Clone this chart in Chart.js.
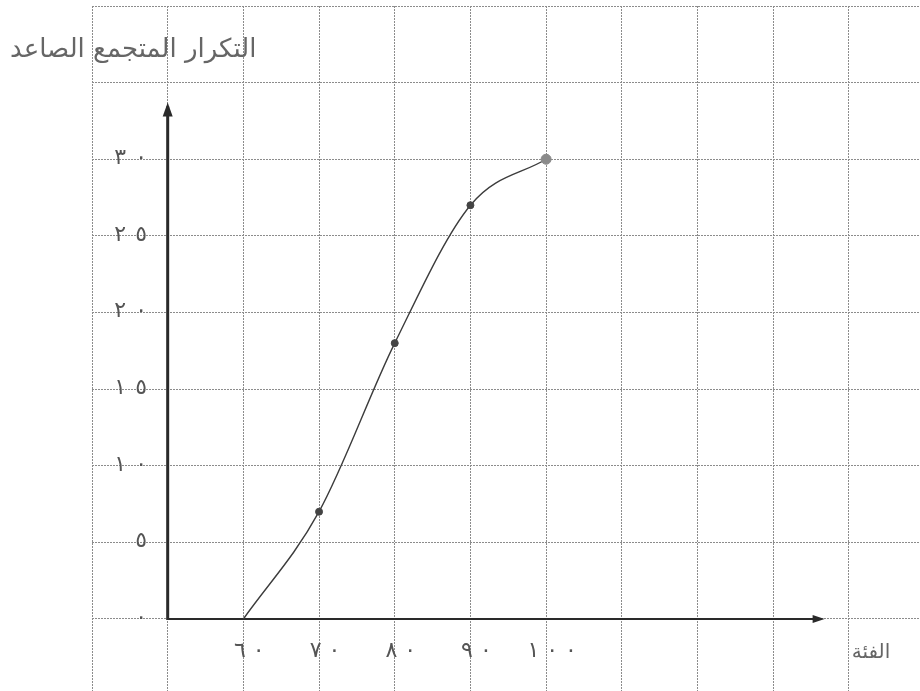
<!DOCTYPE html>
<html lang="ar">
<head>
<meta charset="utf-8">
<script src="https://cdn.jsdelivr.net/npm/chart.js@4.4.1/dist/chart.umd.min.js"></script>
<style>
  html, body { margin: 0; padding: 0; background: #fff; }
  #wrap { width: 920px; height: 691px; }
</style>
</head>
<body>
<div id="wrap"><canvas id="ogive"></canvas></div>
<script>
// upper class boundaries and cumulative frequency (ascending ogive)
const classes = [60, 70, 80, 90, 100];
const cumulative = [0, 7, 18, 27, 30];

const xTickLabels = ['٦٠', '٧٠', '٨٠', '٩٠', '١٠٠'];
const yTickValues = [0, 5, 10, 15, 20, 25, 30];
const yTickLabels = ['٠', '٥', '١٠', '١٥', '٢٠', '٢٥', '٣٠'];

const yTitle = 'التكرار المتجمع الصاعد';
const xTitle = 'الفئة';

const inkGrey = '#555';

// digits are written far apart on the paper, so place them one by one
function spacedText(ctx, text, x, y, gap, align) {
    const chars = Array.from(text);
    const widths = chars.map(c => ctx.measureText(c).width);
    const total = widths.reduce((a, b) => a + b, 0) + gap * (chars.length - 1);
    let cx = align === 'right' ? x - total : align === 'center' ? x - total / 2 : x;
    ctx.textAlign = 'left';
    chars.forEach((c, i) => {
        ctx.fillText(c, cx, y);
        cx += widths[i] + gap;
    });
}

// axes with arrows + hand written labels
const paperPlugin = {
    id: 'paper',
    beforeDatasetsDraw(chart) {
        const { ctx, scales: { x, y } } = chart;
        const ox = x.getPixelForValue(50);
        const oy = y.getPixelForValue(0);
        const yTip = y.getPixelForValue(33.7);
        const xTip = x.getPixelForValue(136.8);

        ctx.save();
        ctx.strokeStyle = '#2a2a2a';
        ctx.fillStyle = '#2a2a2a';

        // x axis
        ctx.lineWidth = 2;
        ctx.beginPath();
        ctx.moveTo(ox, oy);
        ctx.lineTo(xTip - 4, oy);
        ctx.stroke();
        ctx.beginPath();
        ctx.moveTo(xTip, oy);
        ctx.lineTo(xTip - 12, oy - 4);
        ctx.lineTo(xTip - 12, oy + 4);
        ctx.closePath();
        ctx.fill();

        // y axis
        ctx.lineWidth = 3;
        ctx.beginPath();
        ctx.moveTo(ox, oy + 1);
        ctx.lineTo(ox, yTip + 4);
        ctx.stroke();
        ctx.beginPath();
        ctx.moveTo(ox, yTip);
        ctx.lineTo(ox - 5, yTip + 14);
        ctx.lineTo(ox + 5, yTip + 14);
        ctx.closePath();
        ctx.fill();
        ctx.restore();
    },
    afterDraw(chart) {
        const { ctx, scales: { x, y } } = chart;
        ctx.save();
        ctx.fillStyle = inkGrey;
        ctx.font = '22px "DejaVu Sans"';
        ctx.textBaseline = 'alphabetic';

        yTickValues.forEach((v, i) => {
            spacedText(ctx, yTickLabels[i], 147, y.getPixelForValue(v) + 5, 9, 'right');
        });

        classes.forEach((c, i) => {
            spacedText(ctx, xTickLabels[i], x.getPixelForValue(c) + 6, 657, 7, 'center');
        });

        ctx.fillStyle = '#666';
        ctx.font = '26px "DejaVu Sans"';
        ctx.textAlign = 'left';
        ctx.fillText(yTitle, 10, 57);

        ctx.font = '20px "DejaVu Sans"';
        ctx.textAlign = 'center';
        ctx.fillText(xTitle, 871, 658);
        ctx.restore();
    }
};

const keepWhole = step => scale => {
    scale.ticks = scale.ticks.filter(t => Math.abs(t.value / step - Math.round(t.value / step)) < 1e-6);
};

new Chart(document.getElementById('ogive'), {
    type: 'line',
    data: {
        datasets: [{
            label: 'التكرار المتجمع الصاعد',
            data: classes.map((c, i) => ({ x: c, y: cumulative[i] })),
            borderColor: '#3c3c3c',
            borderWidth: 1.4,
            cubicInterpolationMode: 'monotone',
            pointRadius: [0, 3.5, 3.5, 3.5, 5],
            pointBackgroundColor: ['#444', '#444', '#444', '#444', '#8a8a8a'],
            pointBorderColor: ['#444', '#444', '#444', '#444', '#8a8a8a'],
            pointBorderWidth: 1
        }]
    },
    options: {
        responsive: true,
        maintainAspectRatio: false,
        animation: false,
        layout: { autoPadding: false, padding: { left: 92, top: 6, right: 0, bottom: 0 } },
        plugins: {
            legend: { display: false },
            tooltip: { enabled: false }
        },
        scales: {
            x: {
                type: 'linear',
                min: 40,
                max: 149.4,
                ticks: { display: false, stepSize: 10 },
                afterBuildTicks: keepWhole(10),
                afterFit: s => { s.height = 0; },
                grid: { color: '#8c8c8c', lineWidth: 1, drawTicks: false },
                border: { display: false, dash: [2, 1] }
            },
            y: {
                min: -4.7,
                max: 40,
                ticks: { display: false, stepSize: 5 },
                afterBuildTicks: keepWhole(5),
                afterFit: s => { s.width = 0; },
                grid: { color: '#8c8c8c', lineWidth: 1, drawTicks: false },
                border: { display: false, dash: [2, 1] }
            }
        }
    },
    plugins: [paperPlugin]
});
</script>
</body>
</html>
